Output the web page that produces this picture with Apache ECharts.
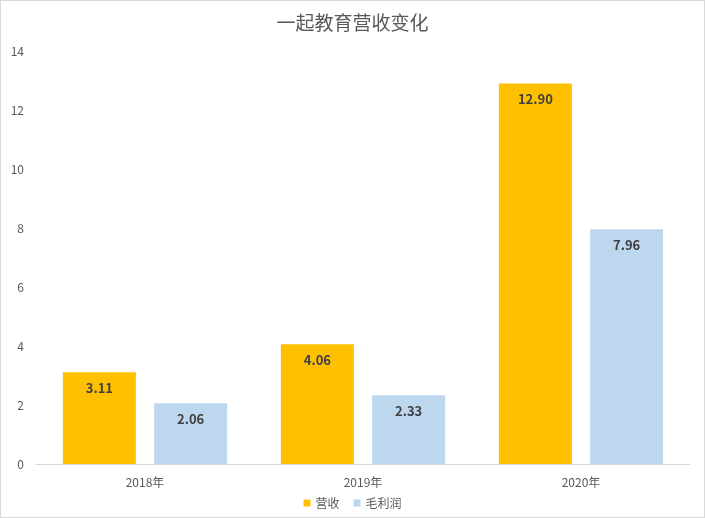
<!DOCTYPE html>
<html><head><meta charset="utf-8">
<script src="https://cdn.jsdelivr.net/npm/echarts@6/dist/echarts.min.js"></script>
<style>html,body{margin:0;padding:0;background:#fff}#c{width:705px;height:518px;box-sizing:border-box;border:1px solid #d9d9d9}</style>
</head><body><div id="c"></div>
<script>
const categories = ['2018年', '2019年', '2020年'];
const revenue = [3.11, 4.06, 12.90];
const grossProfit = [2.06, 2.33, 7.96];
const chart = echarts.init(document.getElementById('c'));
const font = '"Microsoft YaHei","Noto Sans CJK SC",sans-serif';
const lbl = {show:true, position:'insideTop', distance:9, color:'#404040', fontWeight:'bold', fontSize:13, fontFamily:font, formatter:p=>p.value.toFixed(2)};
chart.setOption({
  animation:false,
  title:{text:'一起教育营收变化', left:'center', top:7, textStyle:{fontSize:19, color:'#595959', fontWeight:'normal', fontFamily:font}},
  legend:{bottom:3, left:'center', itemWidth:7, itemHeight:7, itemGap:14, icon:'rect', textStyle:{color:'#595959', fontSize:12, fontFamily:font}, data:['营收','毛利润']},
  grid:{left:35, right:14, top:50, bottom:53},
  xAxis:{type:'category', data:categories, axisTick:{show:false}, axisLine:{lineStyle:{color:'#d9d9d9'}}, axisLabel:{color:'#595959', fontSize:12, margin:12, fontFamily:font}},
  yAxis:{type:'value', min:0, max:14, interval:2, splitLine:{show:false}, axisLine:{show:false}, axisTick:{show:false}, axisLabel:{color:'#595959', fontSize:12, margin:12, fontFamily:font}},
  series:[
    {name:'营收', type:'bar', data:revenue, barWidth:73, barGap:'25%', itemStyle:{color:'#FFC000'}, label:lbl},
    {name:'毛利润', type:'bar', data:grossProfit, barWidth:73, itemStyle:{color:'#BDD7EE'}, label:lbl}
  ]
});
</script></body></html>
